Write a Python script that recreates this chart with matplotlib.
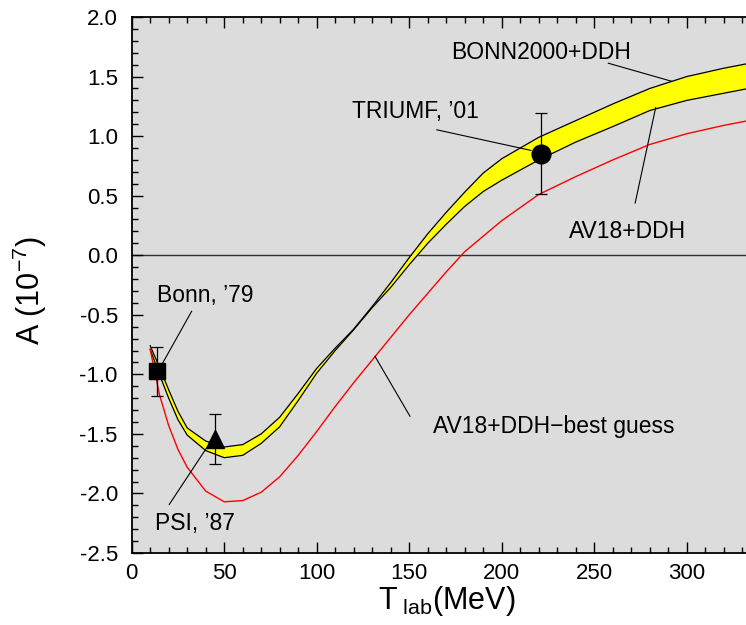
#!/usr/bin/env python3
"""Parity-violating asymmetry A vs T_lab: DDH band, AV18 curve, data points."""

import matplotlib
matplotlib.use("Agg")
import matplotlib.pyplot as plt
import matplotlib.ticker as ticker

# Theory curves
band_x = [10, 15, 20, 25, 30, 40, 50, 60, 70, 80, 90, 100, 110, 120, 130,
          140, 150, 160, 170, 180, 190, 200, 220, 240, 260, 280, 300, 320, 340]
bonn_upper = [-0.76, -0.94, -1.13, -1.31, -1.45, -1.56, -1.61, -1.59, -1.50, -1.36,
              -1.16, -0.95, -0.78, -0.62, -0.43, -0.23, -0.02, 0.18, 0.36, 0.53,
              0.69, 0.81, 0.99, 1.13, 1.27, 1.40, 1.50, 1.57, 1.63]
bonn_lower = [-0.79, -1.00, -1.20, -1.38, -1.51, -1.64, -1.70, -1.68, -1.58, -1.44,
              -1.22, -0.99, -0.80, -0.625, -0.44, -0.27, -0.08, 0.10, 0.26, 0.41,
              0.535, 0.63, 0.80, 0.95, 1.08, 1.215, 1.30, 1.36, 1.42]

av18_x = [10, 15, 20, 25, 30, 40, 50, 60, 70, 80, 90, 100, 110, 120, 130,
          140, 150, 160, 170, 180, 190, 200, 220, 240, 260, 280, 300, 320, 340]
av18_best = [-0.79, -1.17, -1.43, -1.63, -1.78, -1.98, -2.07, -2.06, -1.99, -1.86,
             -1.68, -1.48, -1.27, -1.07, -0.88, -0.69, -0.50, -0.32, -0.14, 0.03,
             0.16, 0.29, 0.51, 0.66, 0.80, 0.93, 1.02, 1.09, 1.15]

# Experimental points
exp_names = ["Bonn, \u201979", "PSI, \u201987", "TRIUMF, \u201901"]
exp_x = [13.6, 45.0, 221.0]
exp_a = [-0.975, -1.54, 0.85]
exp_err = [0.205, 0.21, 0.34]
exp_markers = ["s", "^", "o"]

# Labels: text, text centre, leader line start, leader line end (data units)
annotations = [
    ("BONN2000+DDH", (221.3, 1.70), (257.6, 1.612), (291.9, 1.46)),
    ("TRIUMF, \u201901", (153.1, 1.21), (164.9, 1.053), (215.8, 0.88)),
    ("AV18+DDH", (268.0, 0.20), (272.1, 0.438), (283.2, 1.24)),
    ("AV18+DDH\u2212best guess", (228.3, -1.44), (150.4, -1.352), (131.5, -0.849)),
    ("Bonn, \u201979", (39.5, -0.34), (32.4, -0.471), (16.8, -0.904)),
    ("PSI, \u201987", (34.2, -2.25), (20.3, -2.093), (40.5, -1.617)),
]


def main():
    plt.rcParams["font.family"] = ["Liberation Sans", "DejaVu Sans"]
    plt.rcParams["mathtext.fontset"] = "custom"
    plt.rcParams["mathtext.rm"] = "Liberation Sans"
    plt.rcParams["mathtext.it"] = "Liberation Sans"

    fig = plt.figure(figsize=(7.46, 6.25), dpi=100)
    ax = fig.add_axes([0.1765, 0.1152, 0.8235, 0.8576])
    ax.set_facecolor("#dcdcdc")

    # zero line
    ax.axhline(0.0, color="#333333", linewidth=1.0, zorder=1)

    # BONN2000+DDH band
    ax.fill_between(band_x, bonn_lower, bonn_upper, color="#ffff00", linewidth=0, zorder=2)
    ax.plot(band_x, bonn_upper, color="black", linewidth=0.9, zorder=3)
    ax.plot(band_x, bonn_lower, color="black", linewidth=0.9, zorder=3)

    # AV18+DDH best guess
    ax.plot(av18_x, av18_best, color="red", linewidth=1.0, zorder=3)

    # data
    for x, a, e, m in zip(exp_x, exp_a, exp_err, exp_markers):
        ms = 11.5 if m == "s" else 13.5
        ax.errorbar([x], [a], yerr=[e], fmt=m, color="black", markersize=ms,
                    ecolor="black", elinewidth=0.9, capsize=4.5, capthick=0.9, zorder=5)

    # labels with leader lines
    for text, (tx, ty), (x0, y0), (x1, y1) in annotations:
        ax.text(tx, ty, text, ha="center", va="center", fontsize=16.5, zorder=6)
        ax.plot([x0, x1], [y0, y1], color="black", linewidth=0.8, zorder=4)

    ax.set_xlim(0, 332)
    ax.set_ylim(-2.5, 2.0)

    ax.xaxis.set_major_locator(ticker.MultipleLocator(50))
    ax.xaxis.set_minor_locator(ticker.MultipleLocator(10))
    ax.yaxis.set_major_locator(ticker.MultipleLocator(0.5))
    ax.yaxis.set_minor_locator(ticker.MultipleLocator(0.1))
    ax.yaxis.set_major_formatter(ticker.FormatStrFormatter("%.1f"))

    ax.tick_params(which="both", direction="in", top=True, right=False, width=1.0)
    ax.tick_params(which="major", length=8, labelsize=16)
    ax.tick_params(which="minor", length=4)
    ax.tick_params(axis="x", which="major", pad=7)
    ax.tick_params(axis="y", which="major", pad=10)

    ax.spines["right"].set_visible(False)
    for side in ("left", "bottom", "top"):
        ax.spines[side].set_linewidth(1.3)

    ax.set_xlabel(r"T$_{\rm\ lab}$(MeV)", fontsize=22)
    ax.xaxis.set_label_coords(0.513, -0.058)
    ax.set_ylabel(r"A (10$^{-7}$)", fontsize=22)
    ax.yaxis.set_label_coords(-0.135, 0.49)

    fig.savefig("out.png", dpi=100)


if __name__ == "__main__":
    main()
